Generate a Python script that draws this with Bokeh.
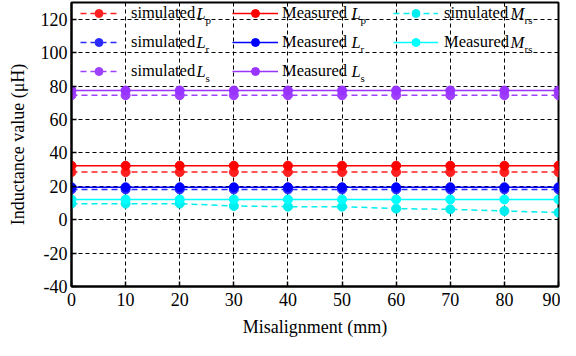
from bokeh.plotting import figure
from bokeh.models import (Range1d, FixedTicker, Legend, LegendItem, Label)
from bokeh.embed import file_html
from bokeh.resources import INLINE

# ---------------- data ----------------
misalignment = [0, 10, 20, 30, 40, 50, 60, 70, 80, 90]
sim_Lp = [28.5, 28.5, 28.5, 28.5, 28.5, 28.5, 28.5, 28.5, 28.5, 28.5]
meas_Lp = [32.3, 32.3, 32.3, 32.3, 32.3, 32.3, 32.3, 32.3, 32.3, 32.3]
sim_Lr = [18.1, 18.1, 18.1, 18.1, 18.1, 18.1, 18.1, 18.1, 18.1, 18.1]
meas_Lr = [19.4, 19.4, 19.4, 19.4, 19.4, 19.4, 19.4, 19.4, 19.4, 19.4]
sim_Ls = [74.5, 74.5, 74.5, 74.5, 74.5, 74.5, 74.5, 74.5, 74.5, 74.5]
meas_Ls = [77.3, 77.3, 77.3, 77.3, 77.3, 77.3, 77.3, 77.3, 77.3, 77.3]
sim_Mrs = [9.6, 9.6, 9.6, 8.2, 7.8, 7.8, 6.6, 6.2, 5.2, 4.3]
meas_Mrs = [12.1, 12.1, 12.1, 12.1, 12.1, 12.1, 12.1, 12.1, 12.1, 12.1]

x_ticks = [0, 10, 20, 30, 40, 50, 60, 70, 80, 90]
y_ticks = [-40, -20, 0, 20, 40, 60, 80, 100, 120]
y_tick_text = {-40: "-40", -20: "-20", 0: "0", 20: "20", 40: "40",
               60: "60", 80: "80", 100: "100", 120: "120"}
x_label = "Misalignment (mm)"
y_label = "Inductance value (\u03bcH)"

# ---------------- layout ----------------
SFONT = "serif"              # axis titles, tick labels and legend
LFONT = "Liberation Serif"   # annotations
W, H = 560, 340
BL, BR, BT, BB = 71, 2, 2, 54
FW, FH = W - BL - BR, H - BT - BB
XMIN, XMAX, YMIN, YMAX = 0, 90, -40, 130

p = figure(width=W, height=H, x_range=Range1d(XMIN, XMAX), y_range=Range1d(YMIN, YMAX),
           output_backend="svg", toolbar_location=None,
           min_border_left=BL, min_border_right=BR, min_border_top=BT, min_border_bottom=BB)
p.background_fill_color = "white"
p.border_fill_color = "white"
p.outline_line_color = "black"
p.outline_line_width = 2

for ax in (p.xaxis[0], p.yaxis[0]):
    ax.axis_line_width = 2
    ax.axis_line_color = "black"
    ax.major_tick_in = 5
    ax.major_tick_out = 0
    ax.major_tick_line_width = 1.5
    ax.major_tick_line_color = "black"
    ax.minor_tick_line_color = None
    ax.major_label_text_font = SFONT
    ax.major_label_text_font_style = "normal"
    ax.major_label_text_color = "black"
    ax.major_label_text_font_size = "18px"
    ax.axis_label_text_font = SFONT
    ax.axis_label_text_font_size = "18px"
    ax.axis_label_text_font_style = "normal"
    ax.axis_label_text_color = "black"

p.xaxis.ticker = FixedTicker(ticks=x_ticks)
p.yaxis.ticker = FixedTicker(ticks=y_ticks)
p.yaxis.major_label_overrides = y_tick_text
p.xaxis.axis_label = x_label
p.yaxis.axis_label = y_label
p.xaxis.major_label_standoff = 6
p.xaxis.axis_label_standoff = 8
p.yaxis.major_label_standoff = 4
p.yaxis.axis_label_standoff = 10

p.xgrid.ticker = FixedTicker(ticks=x_ticks)
p.ygrid.ticker = FixedTicker(ticks=y_ticks)
for g in (p.xgrid[0], p.ygrid[0]):
    g.grid_line_color = "black"
    g.grid_line_dash = "4 3"
    g.grid_line_width = 1
    g.grid_line_alpha = 1.0

# ---------------- series ----------------
series = [
    ("sim", "Lp", sim_Lp, "#ff2020", "dashed"),
    ("meas", "Lp", meas_Lp, "#ff0000", "solid"),
    ("sim", "Lr", sim_Lr, "#2a2aff", "dashed"),
    ("meas", "Lr", meas_Lr, "#0000ff", "solid"),
    ("sim", "Ls", sim_Ls, "#a040ff", "dashed"),
    ("meas", "Ls", meas_Ls, "#9933ff", "solid"),
    ("sim", "Mrs", sim_Mrs, "#00eeee", "dashed"),
    ("meas", "Mrs", meas_Mrs, "#00ffff", "solid"),
]
renderers = {}
for kind, name, vals, color, dash in series:
    ln = p.line(misalignment, vals, line_color=color, line_width=1.5,
                line_dash="6 4" if dash == "dashed" else "solid")
    sc = p.scatter(misalignment, vals, size=9, marker="circle",
                   fill_color=color, line_color=color, line_width=1)
    renderers[(kind, name)] = [ln, sc]

# ---------------- legend ----------------
ROW0, ROWSTEP, ROWH = 11, 29, 20
cols = [
    (9, 37, 14, [("simulated", ("sim", "Lp")), ("simulated", ("sim", "Lr")), ("simulated", ("sim", "Ls"))]),
    (161, 46, 4, [("Measured", ("meas", "Lp")), ("Measured", ("meas", "Lr")), ("Measured", ("meas", "Ls"))]),
    (322, 45, 6, [("simulated", ("sim", "Mrs")), ("Measured", ("meas", "Mrs"))]),
]
for xoff, gw, so, items in cols:
    n = len(items)
    lh = n * ROWH + (n - 1) * (ROWSTEP - ROWH)
    top = ROW0 - ROWH // 2
    leg = Legend(items=[LegendItem(label=t, renderers=renderers[k]) for t, k in items],
                 location=(xoff, FH - top - lh), orientation="vertical",
                 label_text_font=SFONT, label_text_font_size="16.5px",
                 label_text_font_style="normal", label_text_color="black",
                 glyph_width=gw, glyph_height=ROWH, label_height=ROWH,
                 label_standoff=so, spacing=ROWSTEP - ROWH, padding=0, margin=0,
                 border_line_color=None, background_fill_alpha=0)
    p.add_layout(leg, "center")


def dx(px):
    return XMIN + px * (XMAX - XMIN) / FW


def dy(px):
    return YMAX - px * (YMAX - YMIN) / FH


# symbol parts (italic letter + subscript) next to each legend text
sym_parts = [
    (125, 0, "L", "p"), (125, 1, "L", "r"), (125, 2, "L", "s"),
    (280, 0, "L", "p"), (280, 1, "L", "r"), (280, 2, "L", "s"),
    (439, 0, "M", "rs"), (439, 1, "M", "rs"),
]
for xoff, row, main, sub in sym_parts:
    yc = ROW0 + row * ROWSTEP
    p.add_layout(Label(x=dx(xoff), y=dy(yc), text=main, text_font=LFONT,
                       text_font_style="italic", text_font_size="16.5px",
                       text_baseline="middle", text_align="left", text_color="black"))
    sub_x = xoff + (9 if main == "L" else 14)
    p.add_layout(Label(x=dx(sub_x), y=dy(yc + 6), text=sub, text_font=LFONT,
                       text_font_size="11px", text_baseline="middle",
                       text_align="left", text_color="black"))

open("out.html", "w").write(file_html(p, INLINE))
